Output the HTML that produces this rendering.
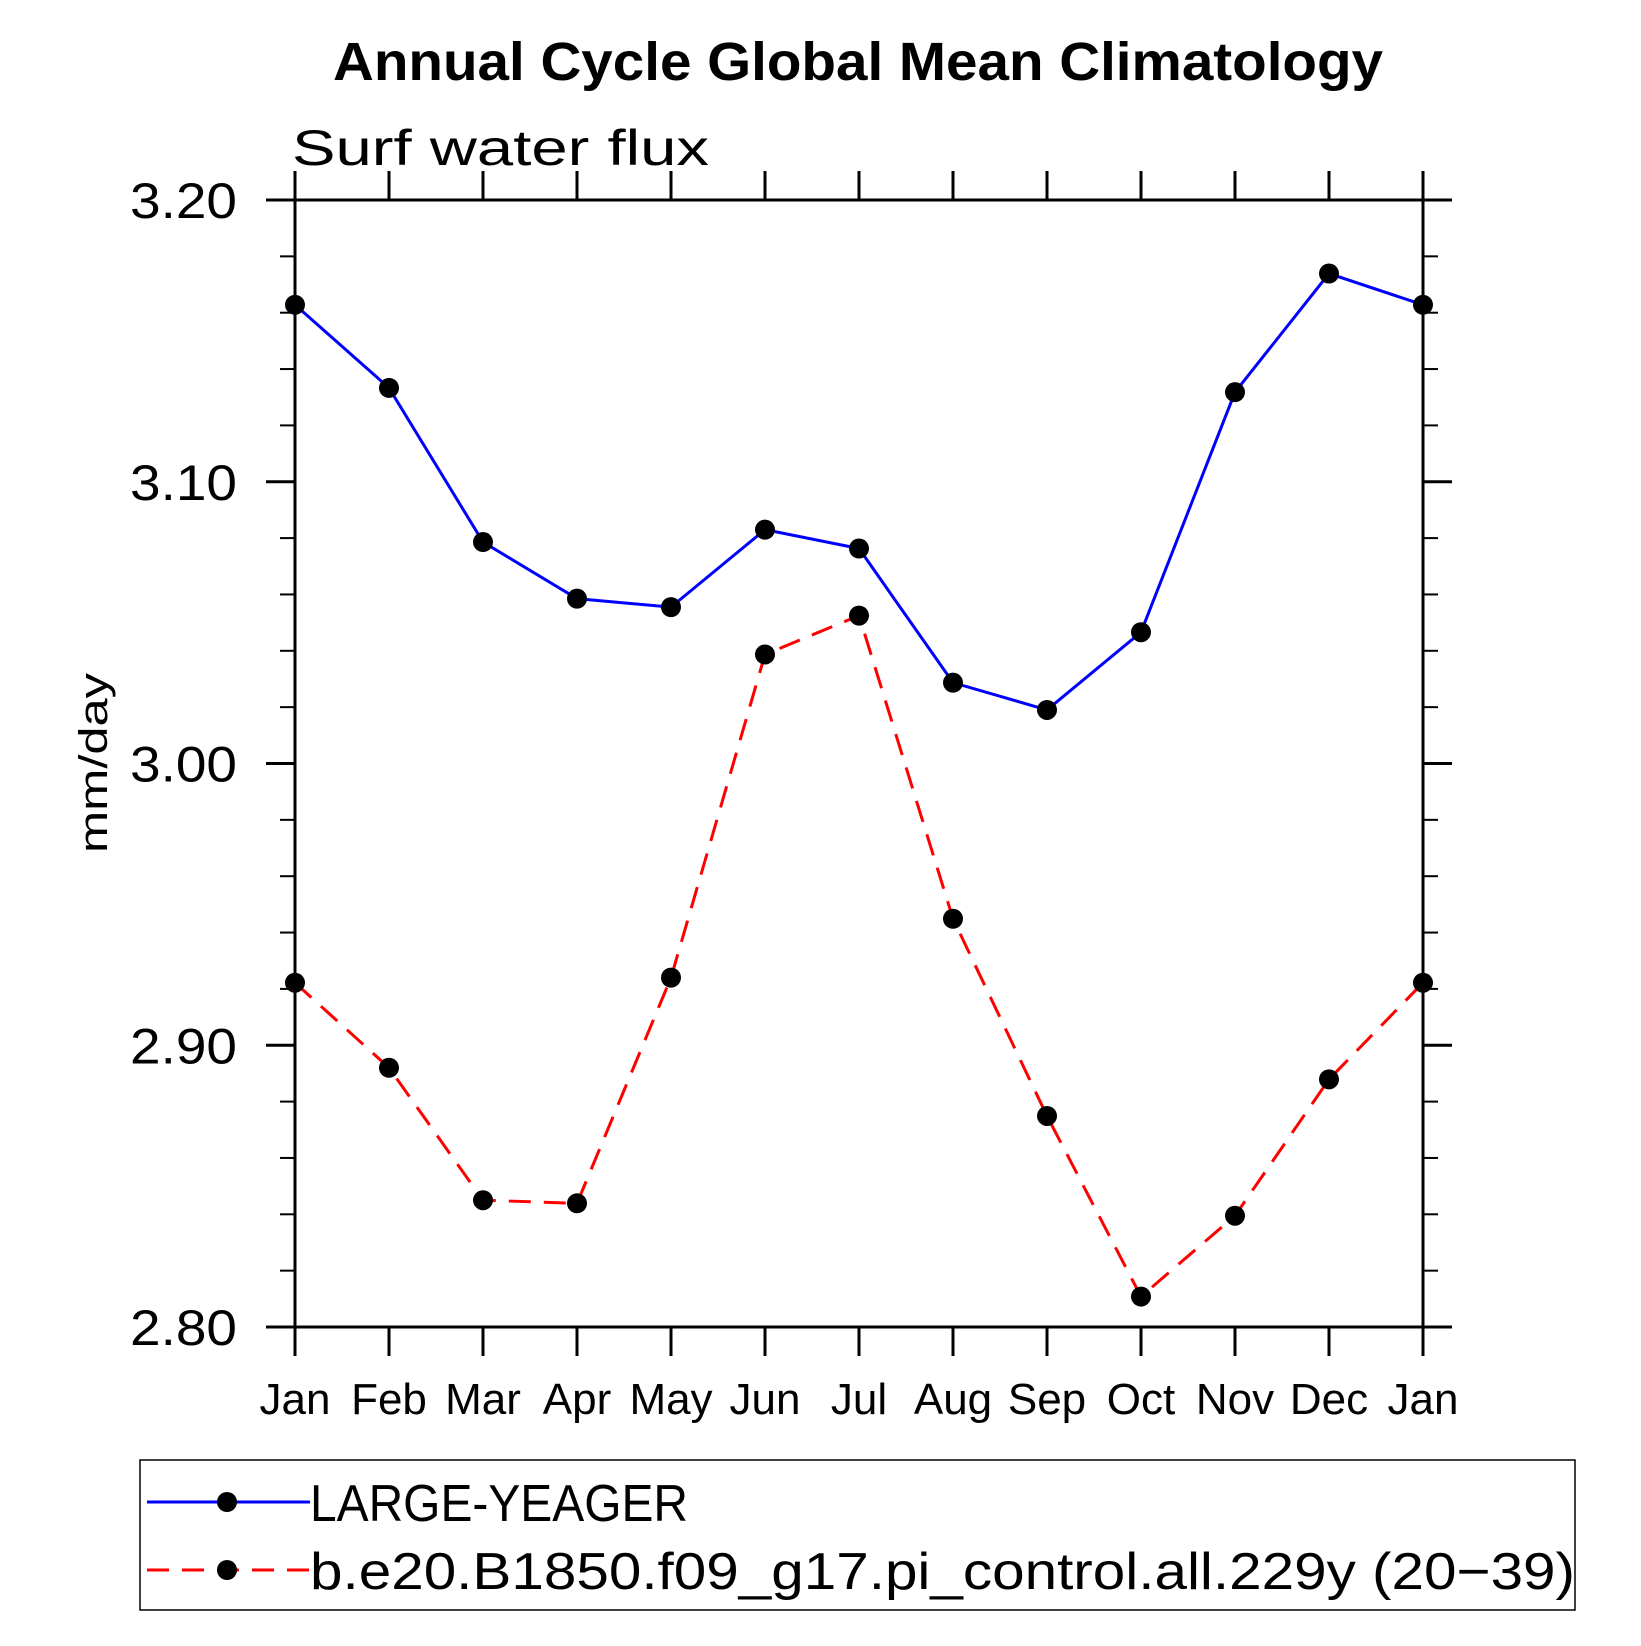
<!DOCTYPE html>
<html><head><meta charset="utf-8"><style>
body{margin:0;background:#fff}
svg text{font-family:"Liberation Sans",sans-serif}
</style></head><body>
<svg id="chart" width="1641" height="1641" xmlns="http://www.w3.org/2000/svg">
<text x="858" y="80" font-size="54" font-weight="bold" text-anchor="middle" textLength="1050" lengthAdjust="spacingAndGlyphs">Annual Cycle Global Mean Climatology</text>
<text x="292" y="165" font-size="50" textLength="417" lengthAdjust="spacingAndGlyphs">Surf water flux</text>
<text transform="translate(107,763) rotate(-90)" font-size="40" text-anchor="middle" textLength="180" lengthAdjust="spacingAndGlyphs">mm/day</text>
<g id="axes"></g>
<g id="series"></g>
<rect x="140" y="1460" width="1435" height="150" fill="none" stroke="#000" stroke-width="1.5"/>
<g id="legend"></g>
</svg>
<script>
const months=["Jan","Feb","Mar","Apr","May","Jun","Jul","Aug","Sep","Oct","Nov","Dec","Jan"];
const largeYeager=[3.1628,3.1333,3.0786,3.0585,3.0555,3.083,3.0763,3.0287,3.019,3.0466,3.1318,3.1739,3.1628];
const piControl=[2.9222,2.892,2.845,2.8439,2.924,3.0387,3.0525,2.9449,2.8749,2.8108,2.8395,2.8879,2.9222];
const yTicks=[2.80,2.90,3.00,3.10,3.20];
const yTickLabels=["2.80","2.90","3.00","3.10","3.20"];
const seriesNames=["LARGE-YEAGER","b.e20.B1850.f09_g17.pi_control.all.229y (20\u221239)"];
const X0=295,X1=1423,Y0=1327,Y1=200,YMIN=2.8,YMAX=3.2;
const xs=i=>X0+(X1-X0)*i/(months.length-1);
const ys=v=>Y0-(v-YMIN)/(YMAX-YMIN)*(Y0-Y1);
const NS="http://www.w3.org/2000/svg";
function mk(tag,parent,attrs){const e=document.createElementNS(NS,tag);for(const k in attrs)e.setAttribute(k,attrs[k]);parent.appendChild(e);return e;}
const ax=document.getElementById('axes');
const frame=mk('rect',ax,{x:X0,y:Y1,width:X1-X0,height:Y0-Y1,fill:'none',stroke:'#000','stroke-width':3});


months.forEach((m,i)=>{
  const x=xs(i);
  const t=mk('line',ax,{x1:x,x2:x,y1:Y0,y2:Y0+29,stroke:'#000','stroke-width':3});
  
  
  const t2=mk('line',ax,{x1:x,x2:x,y1:Y1,y2:Y1-29,stroke:'#000','stroke-width':3});
  
  
  const l=mk('text',ax,{x:x,y:1414,'font-size':44,'text-anchor':'middle'});
  l.textContent=m;
  
  
});
yTicks.forEach((v,i)=>{
  const y=ys(v);
  const a=mk('line',ax,{x1:X0-29,x2:X0,y1:y,y2:y,stroke:'#000','stroke-width':3});
  
  
  const b=mk('line',ax,{x1:X1,x2:X1+29,y1:y,y2:y,stroke:'#000','stroke-width':3});
  
  
  const l=mk('text',ax,{x:237,y:y+18,'font-size':50,'text-anchor':'end',textLength:107,lengthAdjust:'spacingAndGlyphs'});
  l.textContent=yTickLabels[i];
  
  
});
for(let v=YMIN+0.02;v<YMAX-0.001;v+=0.02){
  if(Math.abs(Math.round(v*10)-v*10)<0.01)continue;
  const y=ys(v);
  const a=mk('line',ax,{x1:X0-15,x2:X0,y1:y,y2:y,stroke:'#000','stroke-width':2});
  
  
  const b=mk('line',ax,{x1:X1,x2:X1+15,y1:y,y2:y,stroke:'#000','stroke-width':2});
  
  
}
const sg=document.getElementById('series');
function drawSeries(vals,color,dash,name){
  const p=mk('polyline',sg,{points:vals.map((v,i)=>xs(i)+','+ys(v)).join(' '),fill:'none',stroke:color,'stroke-width':3,'stroke-dasharray':dash});
  
  
  vals.forEach((v,i)=>{
    const c=mk('circle',sg,{cx:xs(i),cy:ys(v),r:10,fill:'#000'});
    
    
  });
}
drawSeries(largeYeager,'#0000ff','none','large-yeager');
drawSeries(piControl,'#ff0000','22,13','pi-control');
const lg=document.getElementById('legend');
const legW=[378,1265];
[[1502,'#0000ff','none'],[1570,'#ff0000','22,13']].forEach((r,i)=>{
  const l=mk('line',lg,{x1:147,x2:310,y1:r[0],y2:r[0],stroke:r[1],'stroke-width':3,'stroke-dasharray':r[2]});
  
  
  const c=mk('circle',lg,{cx:227,cy:r[0],r:10,fill:'#000'});
  
  
  const t=mk('text',lg,{x:310,y:r[0]+19,'font-size':52,textLength:legW[i],lengthAdjust:'spacingAndGlyphs'});
  t.textContent=seriesNames[i];
  
  
});
</script>
</body></html>
